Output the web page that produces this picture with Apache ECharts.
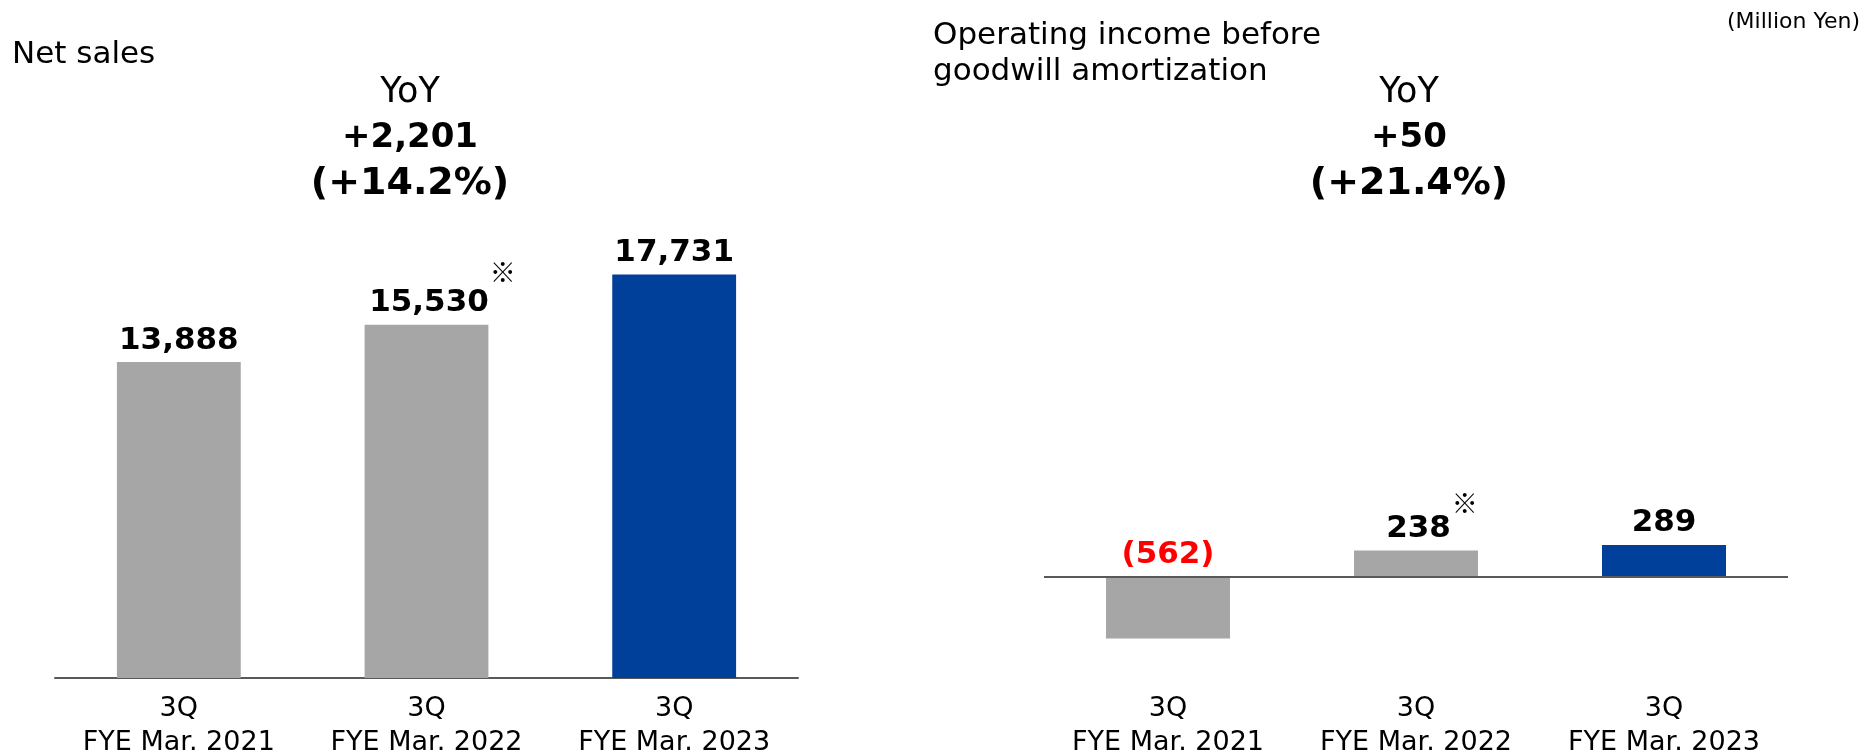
<!DOCTYPE html>
<html>
<head>
<meta charset="utf-8">
<script src="https://cdn.jsdelivr.net/npm/echarts@6/dist/echarts.min.js"></script>
<style>
html,body{margin:0;padding:0;background:#fff;}
#c{width:1873px;height:753px;}
</style>
</head>
<body>
<div id="c"></div>
<script>
// ---- data ----
var categories = ['3Q\nFYE Mar. 2021', '3Q\nFYE Mar. 2022', '3Q\nFYE Mar. 2023'];
var netSales = [13888, 15530, 17731];
var opIncome = [-562, 238, 289];
var noteIndex = 1; // item marked with ※
var leftTitle = 'Net sales';
var rightTitle = 'Operating income before\ngoodwill amortization';
var unitText = '(Million Yen)';
var salesYoY = ['YoY', '+2,201', '(+14.2%)'];
var incomeYoY = ['YoY', '+50', '(+21.4%)'];

// ---- styles ----
var FONT = 'DejaVu Sans';
var GRAY = '#A6A6A6', BLUE = '#00409A', AXIS = '#595959', RED = '#FF0000';

function fmt(v) {
  var s = Math.abs(v).toLocaleString('en-US');
  return v < 0 ? '(' + s + ')' : s;
}

function buildData(values) {
  return values.map(function (v, i) {
    var item = {
      value: v,
      itemStyle: { color: i === values.length - 1 ? BLUE : GRAY },
      label: { color: v < 0 ? RED : '#000' }
    };
    if (i === noteIndex) {
      item.label.formatter = '{v|' + fmt(v) + '}{s|※}';
      item.label.offset = [16, 0];
    }
    return item;
  });
}

function labelCfg(notePad) {
  return {
    show: true,
    position: 'top',
    distance: 6,
    fontFamily: FONT,
    fontSize: 31,
    fontWeight: 'bold',
    formatter: function (p) { return '{v|' + fmt(p.value) + '}'; },
    rich: {
      v: { fontFamily: FONT, fontSize: 31, fontWeight: 'bold', verticalAlign: 'bottom' },
      s: { fontFamily: 'Noto Sans CJK JP', fontSize: 26, color: '#000', fontWeight: 'bold',
           padding: [0, 0, notePad, 1], verticalAlign: 'bottom' }
    }
  };
}

function yoyTitle(lines, x) {
  return {
    text: '{a|' + lines[0] + '}\n{b|' + lines[1] + '}\n{c|' + lines[2] + '}',
    left: x, top: 70, padding: 0, textAlign: 'center',
    textStyle: {
      fontWeight: 'normal',
      rich: {
        a: { fontFamily: FONT, fontSize: 35, fontWeight: 'normal', color: '#000', lineHeight: 46 },
        b: { fontFamily: FONT, fontSize: 34, fontWeight: 'bold', color: '#000', lineHeight: 45 },
        c: { fontFamily: FONT, fontSize: 38, fontWeight: 'bold', color: '#000', lineHeight: 47 }
      }
    }
  };
}

var axisLabel = { fontFamily: FONT, fontSize: 27, color: '#000', lineHeight: 34, margin: 14, interval: 0 };

var option = {
  animation: false,
  backgroundColor: '#fff',
  title: [
    { text: leftTitle, left: 12, top: 39, padding: 0,
      textStyle: { fontFamily: FONT, fontSize: 31, fontWeight: 'normal', color: '#000' } },
    yoyTitle(salesYoY, 410),
    { text: rightTitle, left: 933, top: 18, padding: 0,
      textStyle: { fontFamily: FONT, fontSize: 31, fontWeight: 'normal', color: '#000', lineHeight: 36 } },
    yoyTitle(incomeYoY, 1409),
    { text: unitText, right: 13, top: 11, padding: 0,
      textStyle: { fontFamily: FONT, fontSize: 22, fontWeight: 'normal', color: '#000' } }
  ],
  grid: [
    { left: 55, right: 1075, top: 223, bottom: 75, outerBoundsMode: 'none', containLabel: false },
    { left: 1044, right: 85, top: 240, bottom: 75, outerBoundsMode: 'none', containLabel: false }
  ],
  xAxis: [
    { type: 'category', gridIndex: 0, data: categories,
      axisLine: { show: true, lineStyle: { color: AXIS, width: 2 } },
      axisTick: { show: false }, axisLabel: axisLabel, splitLine: { show: false } },
    { type: 'category', gridIndex: 1, data: categories,
      axisLine: { show: false, onZero: false },
      axisTick: { show: false }, axisLabel: axisLabel, splitLine: { show: false } }
  ],
  yAxis: [
    { type: 'value', gridIndex: 0, min: 0, max: 20000, show: false, splitLine: { show: false } },
    { type: 'value', gridIndex: 1, min: -920, max: 3060, show: false, splitLine: { show: false } }
  ],
  series: [
    { type: 'bar', xAxisIndex: 0, yAxisIndex: 0, barWidth: '50%',
      data: buildData(netSales), label: labelCfg(34) },
    { type: 'bar', xAxisIndex: 1, yAxisIndex: 1, barWidth: '50%',
      data: buildData(opIncome), label: labelCfg(28),
      markLine: { silent: true, symbol: ['none', 'none'], label: { show: false },
        lineStyle: { color: AXIS, width: 2, type: 'solid' },
        emphasis: { disabled: true },
        data: [{ yAxis: 0 }] } }
  ]
};

var chart = echarts.init(document.getElementById('c'), null, { renderer: 'canvas' });
chart.setOption(option);
</script>
</body>
</html>
